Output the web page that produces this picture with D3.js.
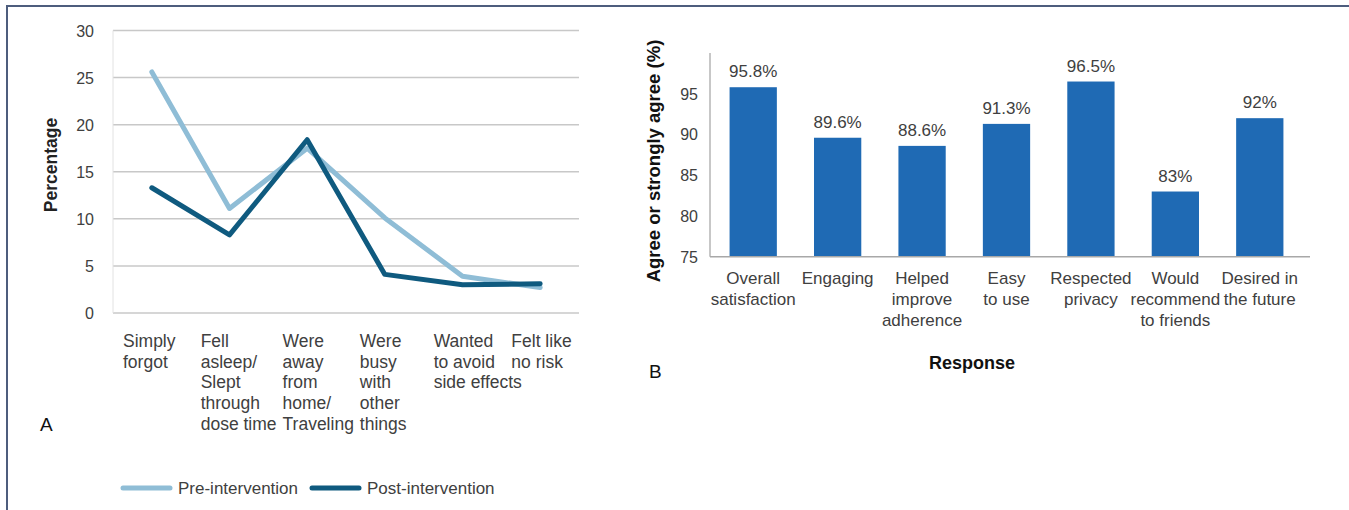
<!DOCTYPE html>
<html>
<head>
<meta charset="utf-8">
<script src="https://cdn.jsdelivr.net/npm/d3@7"></script>
<style>
  body { margin: 0; background: #fff; }
  svg text { font-family: "Liberation Sans", Arial, sans-serif; }
</style>
</head>
<body>
<div id="chart"></div>
<script>
// Panel A data
let reasons = [
    ["Simply", "forgot"],
    ["Fell", "asleep/", "Slept", "through", "dose time"],
    ["Were", "away", "from", "home/", "Traveling"],
    ["Were", "busy", "with", "other", "things"],
    ["Wanted", "to avoid", "side effects"],
    ["Felt like", "no risk"]
];
let preValues = [25.6, 11.1, 17.5, 10.1, 3.9, 2.7];
let postValues = [13.3, 8.3, 18.4, 4.1, 3.0, 3.1];
let percentTicks = [0, 5, 10, 15, 20, 25, 30];

// Panel B data
let responses = [
    ["Overall", "satisfaction"],
    ["Engaging"],
    ["Helped", "improve", "adherence"],
    ["Easy", "to use"],
    ["Respected", "privacy"],
    ["Would", "recommend", "to friends"],
    ["Desired in", "the future"]
];
let agreeValues = [95.8, 89.6, 88.6, 91.3, 96.5, 83, 92];
let agreeLabels = ["95.8%", "89.6%", "88.6%", "91.3%", "96.5%", "83%", "92%"];
let agreeTicks = [75, 80, 85, 90, 95];

let lightBlue = "#8fbdd6";
let darkBlue = "#0f5a7f";
let barColor = "#1f6ab4";
let textColor = "#404040";

let svg = d3.select("#chart").append("svg")
    .attr("width", 1349)
    .attr("height", 510);

// frame
svg.append("rect")
    .attr("x", 7).attr("y", 6)
    .attr("width", 1400).attr("height", 600)
    .style("fill", "none")
    .style("stroke", "#4d5d7d")
    .style("stroke-width", 2);

// ---------- Panel A ----------
let xA = d3.scaleBand().domain(d3.range(reasons.length)).range([113, 579]);
let yA = d3.scaleLinear().domain([0, 30]).range([313, 30.5]);

let gA = svg.append("g");

gA.selectAll(".gridA").data(percentTicks).enter().append("line")
    .attr("x1", 113).attr("x2", 579)
    .attr("y1", d => yA(d)).attr("y2", d => yA(d))
    .style("stroke", "#c8c8c8").style("stroke-width", 1.5);

gA.append("line")
    .attr("x1", 113).attr("x2", 113)
    .attr("y1", yA(30)).attr("y2", yA(0))
    .style("stroke", "#e2e2e2").style("stroke-width", 1);

gA.selectAll(".tickA").data(percentTicks).enter().append("text")
    .attr("x", 94)
    .attr("y", d => yA(d) + 6)
    .attr("text-anchor", "end")
    .style("font-size", "16px")
    .style("fill", textColor)
    .text(d => d);

gA.append("text")
    .attr("transform", "translate(57,165) rotate(-90)")
    .attr("text-anchor", "middle")
    .style("font-size", "17.5px")
    .style("font-weight", "bold")
    .style("fill", "#222")
    .text("Percentage");

// category labels: left aligned, pushed right only where a line would collide
let lineEnds = [];
reasons.forEach(function(lines, i) {
    let g = gA.append("g");
    let t = g.append("text").style("font-size", "17.5px").style("fill", textColor);
    let widths = [];
    lines.forEach(function(l, j) {
        let ts = t.append("tspan").attr("x", 0).attr("y", 347 + j * 20.7).text(l);
        widths.push(ts.node().getComputedTextLength());
    });
    let start = xA(i) + 10;
    lines.forEach(function(l, j) {
        if (lineEnds[j] !== undefined) start = Math.max(start, lineEnds[j] + 6);
    });
    g.attr("transform", "translate(" + start + ",0)");
    lineEnds = widths.map(w => start + w);
});

let lineA = d3.line()
    .x((d, i) => xA(i) + xA.bandwidth() / 2)
    .y(d => yA(d));

gA.append("path").datum(preValues)
    .attr("d", lineA)
    .style("fill", "none").style("stroke", lightBlue)
    .style("stroke-width", 5).style("stroke-linejoin", "round").style("stroke-linecap", "round");

gA.append("path").datum(postValues)
    .attr("d", lineA)
    .style("fill", "none").style("stroke", darkBlue)
    .style("stroke-width", 5).style("stroke-linejoin", "round").style("stroke-linecap", "round");

// legend
let legendItems = [["Pre-intervention", lightBlue, 123], ["Post-intervention", darkBlue, 312]];
legendItems.forEach(function(it) {
    svg.append("line")
        .attr("x1", it[2]).attr("x2", it[2] + 47)
        .attr("y1", 488).attr("y2", 488)
        .style("stroke", it[1]).style("stroke-width", 5).style("stroke-linecap", "round");
    svg.append("text")
        .attr("x", it[2] + 55).attr("y", 494)
        .style("font-size", "17px").style("fill", textColor)
        .text(it[0]);
});

svg.append("text").attr("x", 40).attr("y", 431)
    .style("font-size", "19px").style("fill", "#111").text("A");

// ---------- Panel B ----------
let xB = d3.scaleBand().domain(d3.range(responses.length)).range([711, 1302]).paddingInner(0.44).paddingOuter(0.22);
let yB = d3.scaleLinear().domain([75, 100]).range([256.7, 53]);

let gB = svg.append("g");

gB.append("line")
    .attr("x1", 710).attr("x2", 710)
    .attr("y1", yB(100)).attr("y2", yB(75))
    .style("stroke", "#b5b5b5").style("stroke-width", 1.5);

gB.selectAll(".tickB").data(agreeTicks).enter().append("text")
    .attr("x", 698)
    .attr("y", d => yB(d) + 6)
    .attr("text-anchor", "end")
    .style("font-size", "16px")
    .style("fill", textColor)
    .text(d => d);

gB.selectAll(".bar").data(agreeValues).enter().append("rect")
    .attr("x", (d, i) => xB(i))
    .attr("y", d => yB(d))
    .attr("width", xB.bandwidth())
    .attr("height", d => yB(75) - yB(d))
    .style("fill", barColor);

gB.append("line")
    .attr("x1", 710).attr("x2", 1310)
    .attr("y1", yB(75)).attr("y2", yB(75))
    .style("stroke", "#a8a8a8").style("stroke-width", 1.5);

gB.selectAll(".val").data(agreeValues).enter().append("text")
    .attr("x", (d, i) => xB(i) + xB.bandwidth() / 2)
    .attr("y", d => yB(d) - 10)
    .attr("text-anchor", "middle")
    .style("font-size", "17px")
    .style("fill", textColor)
    .text((d, i) => agreeLabels[i]);

responses.forEach(function(lines, i) {
    let t = gB.append("text")
        .attr("text-anchor", "middle")
        .style("font-size", "17px")
        .style("fill", textColor);
    lines.forEach(function(l, j) {
        t.append("tspan")
            .attr("x", xB(i) + xB.bandwidth() / 2)
            .attr("y", 284 + j * 21)
            .text(l);
    });
});

gB.append("text")
    .attr("transform", "translate(660,161) rotate(-90)")
    .attr("text-anchor", "middle")
    .style("font-size", "18.5px")
    .style("font-weight", "bold")
    .style("fill", "#111")
    .text("Agree or strongly agree (%)");

gB.append("text")
    .attr("x", 972).attr("y", 369)
    .attr("text-anchor", "middle")
    .style("font-size", "18px")
    .style("font-weight", "bold")
    .style("fill", "#111")
    .text("Response");

svg.append("text").attr("x", 649).attr("y", 378)
    .style("font-size", "19px").style("fill", "#111").text("B");
</script>
</body>
</html>
